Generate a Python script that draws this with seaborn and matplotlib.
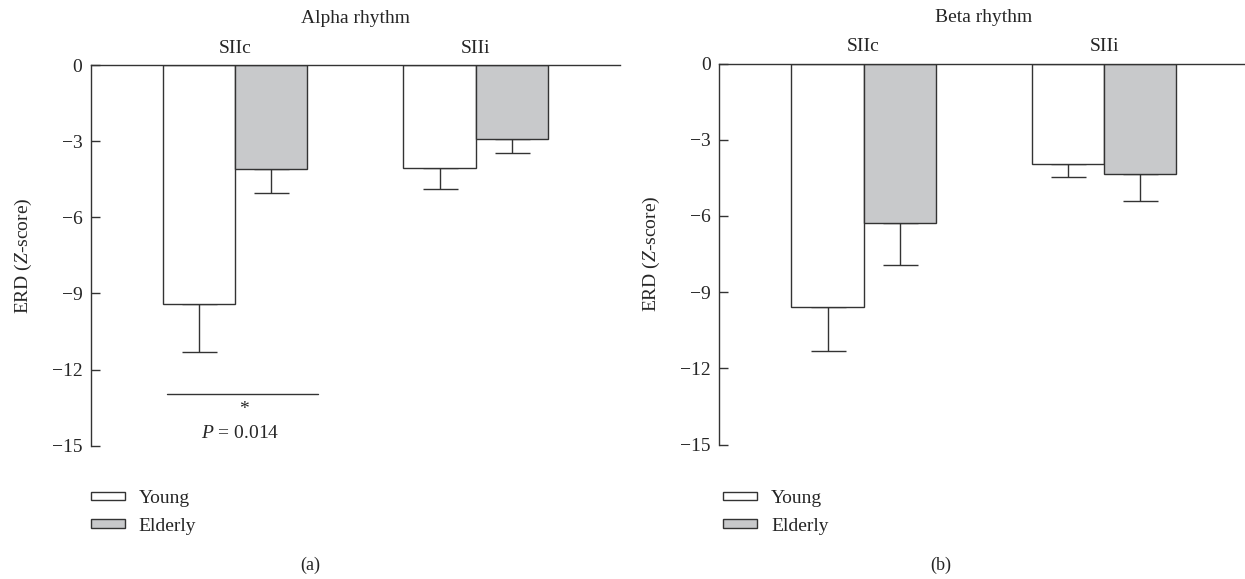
import matplotlib
matplotlib.use("Agg")
import matplotlib.pyplot as plt
import seaborn as sns
import pandas as pd

# ---------------- data ----------------
regions = ["SIIc", "SIIi"]
groups = ["Young", "Elderly"]

alpha_young = [-9.4, -4.05]
alpha_young_err = [1.9, 0.85]
alpha_elderly = [-4.1, -2.9]
alpha_elderly_err = [0.95, 0.55]

beta_young = [-9.6, -3.96]
beta_young_err = [1.7, 0.49]
beta_elderly = [-6.27, -4.36]
beta_elderly_err = [1.65, 1.07]

y_ticks = [0, -3, -6, -9, -12, -15]
y_tick_labels = ["0", "\u22123", "\u22126", "\u22129", "\u221212", "\u221215"]

panel_titles = ["Alpha rhythm", "Beta rhythm"]
panel_tags = ["(a)", "(b)"]
sig_y = -12.95
sig_text = "$P$ = 0.014"

# ---------------- style ----------------
sns.set_style("white")
plt.rcParams["font.family"] = ["Liberation Serif", "DejaVu Serif"]
plt.rcParams["mathtext.fontset"] = "custom"
plt.rcParams["mathtext.rm"] = "Liberation Serif"
plt.rcParams["mathtext.it"] = "Liberation Serif:italic"

FS = 14
EDGE = "#333333"
GRAY = "#c8c9cb"
palette = {"Young": "white", "Elderly": GRAY}

fig = plt.figure(figsize=(12.45, 5.79), dpi=100)
W, H = 1245, 579

def axes_px(l, t, r, b):
    return fig.add_axes([l / W, 1 - b / H, (r - l) / W, (b - t) / H])

ax_a = axes_px(90.7, 65, 620, 445.7)
ax_b = axes_px(719.3, 63.5, 1248.6, 444.5)

panels = [
    (ax_a, alpha_young, alpha_young_err, alpha_elderly, alpha_elderly_err, 0),
    (ax_b, beta_young, beta_young_err, beta_elderly, beta_elderly_err, 4),
]

for i, (ax, yv, ye, ev, ee, leg_dx) in enumerate(panels):
    df = pd.DataFrame({
        "region": regions * 2,
        "group": [groups[0]] * 2 + [groups[1]] * 2,
        "value": list(yv) + list(ev),
    })
    errs = {groups[0]: ye, groups[1]: ee}
    sns.barplot(data=df, x="region", y="value", hue="group",
                order=regions, hue_order=groups, palette=palette,
                edgecolor=EDGE, linewidth=1.0, width=0.6, gap=0,
                errorbar=None, ax=ax, legend=True, zorder=2)
    bar_containers = list(ax.containers)
    for cont, g in zip(bar_containers, groups):
        vals = df[df["group"] == g]["value"].tolist()
        for bar, v, e in zip(cont, vals, errs[g]):
            xc = bar.get_x() + bar.get_width() / 2
            ax.errorbar([xc], [v], yerr=[[e], [0]], fmt="none",
                        ecolor=EDGE, elinewidth=1.0, capsize=12.6,
                        capthick=1.0, zorder=1)

    ax.set_ylim(-15, 0)
    ax.set_xlim(-0.6, 1.6)
    ax.set_yticks(y_ticks)
    ax.set_yticklabels(y_tick_labels, fontsize=FS)
    ax.xaxis.tick_top()
    ax.set_xticks(range(len(regions)))
    ax.set_xticklabels(regions, fontsize=FS)
    ax.tick_params(axis="x", length=0, pad=6)
    ax.yaxis.set_tick_params(which="major", direction="in", length=6.5,
                             width=1.0, color=EDGE, pad=6, left=True)
    ax.set_xlabel("")
    ax.set_ylabel("ERD ($\\mathit{Z}$-score)", fontsize=FS)
    ax.yaxis.set_label_coords(-0.108, 0.5)
    for s in ["right", "bottom"]:
        ax.spines[s].set_visible(False)
    for s in ["top", "left"]:
        ax.spines[s].set_visible(True)
        ax.spines[s].set_color(EDGE)
        ax.spines[s].set_linewidth(1.0)
    ax.set_title(panel_titles[i], fontsize=FS, pad=30)
    ax.set_facecolor("white")

    sns.move_legend(ax, loc="upper left",
                    bbox_to_anchor=(ax.get_position().x0 + leg_dx / W, 1 - 490 / H),
                    bbox_transform=fig.transFigure,
                    frameon=False, title=None, fontsize=FS,
                    handlelength=1.75, handleheight=0.3,
                    handletextpad=0.7, labelspacing=0.55,
                    borderpad=0, borderaxespad=0)

# significance annotation on panel (a)
ax_a.plot([-0.284, 0.344], [sig_y, sig_y], color=EDGE, lw=1.0, clip_on=False)
ax_a.text(0.035, sig_y - 0.62, "*", ha="center", va="center", fontsize=FS)
ax_a.text(0.022, sig_y - 1.55, sig_text, ha="center", va="center", fontsize=FS)

fig.text(310 / W, 1 - 565 / H, panel_tags[0], ha="center", va="center", fontsize=FS - 1)
fig.text(941 / W, 1 - 565 / H, panel_tags[1], ha="center", va="center", fontsize=FS - 1)

fig.savefig("out.png", dpi=100, facecolor="white")
